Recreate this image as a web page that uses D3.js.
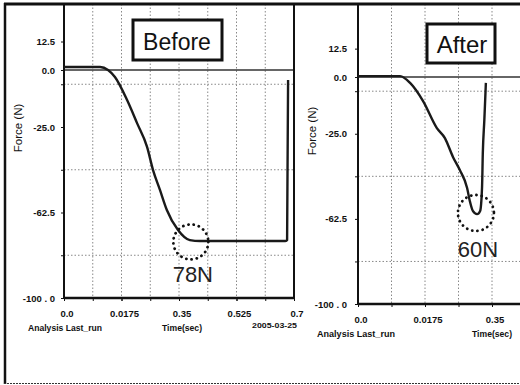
<!DOCTYPE html>
<html><head><meta charset="utf-8">
<script src="https://cdn.jsdelivr.net/npm/d3@7"></script>
<style>body{margin:0;background:#fff}svg{display:block}</style>
</head><body>
<svg id="c" width="520" height="385"></svg>
<script>
// ---- data ----
const xTickValues = [0, 0.175, 0.35, 0.525, 0.7];
const xTickLabels = ["0.0", "0.0175", "0.35", "0.525", "0.7"];
const yTickValues = [12.5, 0, -25, -62.5, -100];
const yTickLabels = ["12.5", "0.0", "-25.0", "-62.5", "-100 . 0"];
const yGridValues = [-6.25, -43.75, -81.25];
const xGridValues = [0.0875, 0.175, 0.2625, 0.35, 0.4375, 0.525, 0.6125];

const beforeTime  = [0, 0.11, 0.134, 0.155, 0.192, 0.222, 0.253, 0.271, 0.292, 0.313, 0.347, 0.383, 0.414, 0.55, 0.62, 0.673, 0.679, 0.682];
const beforeForce = [1.3, 1.3, 0, -3.1, -13.2, -23.2, -33.8, -43.9, -52.6, -61.4, -70.2, -74.6, -75, -75, -75, -75, -74.6, -4.4];

const afterTime  = [0, 0.11, 0.136, 0.17, 0.206, 0.227, 0.248, 0.266, 0.285, 0.292, 0.300, 0.311, 0.319, 0.324, 0.326, 0.330, 0.334];
const afterForce = [0.4, 0.4, -2.6, -10.6, -22.5, -26.9, -35.2, -41.0, -48.9, -54.6, -59.0, -60.4, -59.0, -48.5, -33.5, -18.9, -2.6];

const panelTitles = ["Before", "After"];
const peakLabels = ["78N", "60N"];
const peakTime = [0.386, 0.308];
const peakForce = [-75.4, -59.9];

// ---- drawing ----
const W = 520;
const svg = d3.select("#c");
svg.append("rect").attr("width", 520).attr("height", 385).attr("fill", "#fff");

const panels = [
  {x0: 64, x1: 294, yTop: 4, yZero: 70, yBot: 298, t: beforeTime, f: beforeForce,
   box: [133, 20, 89, 40], titleX: 177, titleY: 50, titleSize: 23, labelY: 282, r: 17.5,
   yLabEnd: 55, forceX: 18, forceY: 128, analysisX: 28, analysisW: 74, timeX: 162, textY: 331, dateShow: true},
  {x0: 358, x1: 626, yTop: 4, yZero: 77, yBot: 304, t: afterTime, f: afterForce,
   box: [427, 24, 68, 39], titleX: 462, titleY: 53, titleSize: 24, labelY: 257, r: 18,
   yLabEnd: 347, forceX: 312, forceY: 131, analysisX: 317, analysisW: 78, timeX: 472, textY: 337, dateShow: false}
];

svg.append("defs").append("clipPath").attr("id", "page")
  .append("rect").attr("x", 0).attr("y", 0).attr("width", W).attr("height", 385);

panels.forEach((p, i) => {
  const g = svg.append("g").attr("clip-path", "url(#page)");
  const x = d3.scaleLinear().domain([0, 0.7]).range([p.x0, p.x1]);
  const y = d3.scaleLinear().domain([-100, 0]).range([p.yBot, p.yZero]);
  const visible = d => x(d) < W - 2;

  // grid
  g.selectAll(".vg").data(xGridValues.filter(visible)).join("line")
    .attr("x1", d => x(d)).attr("x2", d => x(d)).attr("y1", p.yTop).attr("y2", p.yBot)
    .attr("stroke", "#888").attr("stroke-width", 1).attr("stroke-dasharray", "1.5 2");
  g.selectAll(".hg").data(yGridValues).join("line")
    .attr("x1", p.x0).attr("x2", Math.min(p.x1, W)).attr("y1", d => y(d)).attr("y2", d => y(d))
    .attr("stroke", "#888").attr("stroke-width", 1).attr("stroke-dasharray", "1.5 2");
  // zero line
  g.append("line").attr("x1", p.x0).attr("x2", Math.min(p.x1, W)).attr("y1", y(0)).attr("y2", y(0))
    .attr("stroke", "#333").attr("stroke-width", 1.6);

  // axes frame
  g.append("line").attr("x1", p.x0).attr("x2", p.x0).attr("y1", p.yTop).attr("y2", p.yBot + 1)
    .attr("stroke", "#111").attr("stroke-width", 2);
  g.append("line").attr("x1", p.x0).attr("x2", Math.min(p.x1 + 1, W)).attr("y1", p.yBot).attr("y2", p.yBot)
    .attr("stroke", "#111").attr("stroke-width", 2.5);
  if (p.x1 < W) {
    g.append("line").attr("x1", p.x1).attr("x2", p.x1).attr("y1", p.yTop).attr("y2", p.yBot)
      .attr("stroke", "#111").attr("stroke-width", 2);
  }

  // y ticks
  const yAxis = d3.axisLeft(y).tickValues(yTickValues.concat(yGridValues)).tickSize(3).tickFormat("");
  const ya = g.append("g").attr("transform", `translate(${p.x0},0)`).call(yAxis);
  ya.select(".domain").remove();
  ya.selectAll("line").attr("stroke", "#111");
  g.selectAll(".yl").data(yTickValues).join("text")
    .attr("x", p.yLabEnd).attr("y", d => y(d) + 3.5).attr("text-anchor", "end")
    .attr("font-family", "Liberation Sans, Arial, sans-serif").attr("font-weight", "bold")
    .attr("font-size", 9.5).attr("fill", "#111").text((d, k) => yTickLabels[k]);

  // x ticks (only those inside the page)
  const xTicksVis = xTickValues.concat(xGridValues).filter(visible);
  const xAxis = d3.axisBottom(x).tickValues(xTicksVis).tickSize(3).tickFormat("");
  const xa = g.append("g").attr("transform", `translate(0,${p.yBot})`).call(xAxis);
  xa.select(".domain").remove();
  xa.selectAll("line").attr("stroke", "#111");
  const xLab = xTickValues.map((v, k) => ({v, s: xTickLabels[k]})).filter(d => x(d.v) + 16 < W);
  g.selectAll(".xl").data(xLab).join("text")
    .attr("x", d => x(d.v) + 3).attr("y", p.yBot + 19).attr("text-anchor", "middle")
    .attr("font-family", "Liberation Sans, Arial, sans-serif").attr("font-weight", "bold")
    .attr("font-size", 9.5).attr("fill", "#111").text(d => d.s);

  // curve
  const pts = p.t.map((t, k) => [t, p.f[k]]);
  const line = d3.line().x(d => x(d[0])).y(d => y(d[1])).curve(d3.curveMonotoneX);
  g.append("path").attr("d", line(pts)).attr("fill", "none")
    .attr("stroke", "#1a1a1a").attr("stroke-width", 2.4).attr("stroke-linejoin", "round");

  // peak circle + label
  g.append("circle").attr("cx", x(peakTime[i])).attr("cy", y(peakForce[i])).attr("r", p.r)
    .attr("fill", "none").attr("stroke", "#111").attr("stroke-width", 2.8)
    .attr("stroke-linecap", "round").attr("stroke-dasharray", "0.1 5.2");
  g.append("text").attr("x", x(peakTime[i]) + 2).attr("y", p.labelY).attr("text-anchor", "middle")
    .attr("font-family", "Liberation Sans, Arial, sans-serif").attr("font-size", 22)
    .attr("fill", "#222").text(peakLabels[i]);

  // title box
  g.append("rect").attr("x", p.box[0]).attr("y", p.box[1]).attr("width", p.box[2]).attr("height", p.box[3])
    .attr("fill", "#fff").attr("stroke", "#111").attr("stroke-width", 3);
  g.append("text").attr("x", p.titleX).attr("y", p.titleY).attr("text-anchor", "middle")
    .attr("font-family", "Liberation Sans, Arial, sans-serif").attr("font-size", p.titleSize)
    .attr("fill", "#111").text(panelTitles[i]);

  // axis titles
  g.append("text").attr("transform", `translate(${p.forceX + 4},${p.forceY}) rotate(-90)`)
    .attr("text-anchor", "middle").attr("font-family", "Liberation Sans, Arial, sans-serif")
    .attr("font-size", 11.5).attr("fill", "#111").text("Force (N)");
  g.append("text").attr("x", p.analysisX).attr("y", p.textY)
    .attr("font-family", "Liberation Sans, Arial, sans-serif").attr("font-weight", "bold")
    .attr("font-size", 8.5).attr("textLength", p.analysisW).attr("lengthAdjust", "spacingAndGlyphs")
    .attr("fill", "#111").text("Analysis Last_run");
  g.append("text").attr("x", p.timeX).attr("y", p.textY)
    .attr("font-family", "Liberation Sans, Arial, sans-serif").attr("font-weight", "bold")
    .attr("font-size", 8.5).attr("textLength", 40).attr("lengthAdjust", "spacingAndGlyphs")
    .attr("fill", "#111").text("Time(sec)");
  if (p.dateShow) {
    g.append("text").attr("x", 252).attr("y", 328)
      .attr("font-family", "Liberation Sans, Arial, sans-serif").attr("font-weight", "bold")
      .attr("font-size", 7.5).attr("textLength", 45).attr("lengthAdjust", "spacingAndGlyphs")
      .attr("fill", "#111").text("2005-03-25");
  }
});

// outer frame
svg.append("line").attr("x1", 4).attr("x2", 520).attr("y1", 4).attr("y2", 4)
  .attr("stroke", "#111").attr("stroke-width", 3);
svg.append("line").attr("x1", 5).attr("x2", 5).attr("y1", 3).attr("y2", 384)
  .attr("stroke", "#111").attr("stroke-width", 2.5);
svg.append("line").attr("x1", 4).attr("x2", 520).attr("y1", 383.5).attr("y2", 383.5)
  .attr("stroke", "#333").attr("stroke-width", 1.2).attr("stroke-dasharray", "2 1");
</script>
</body></html>
